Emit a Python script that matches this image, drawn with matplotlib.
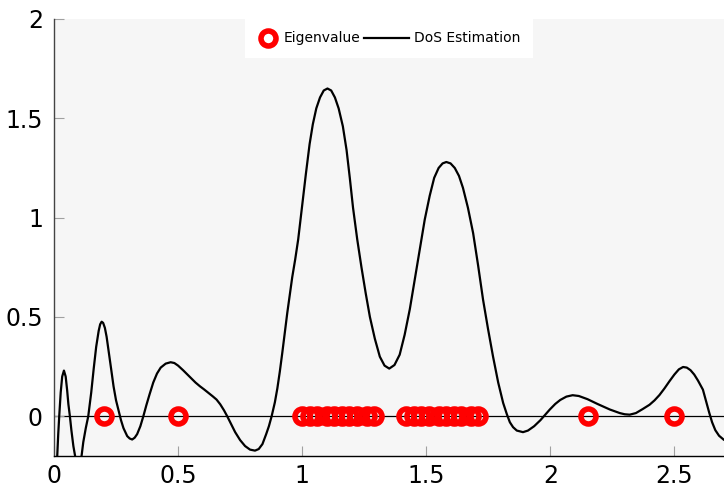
import matplotlib
matplotlib.use("Agg")
import matplotlib.pyplot as plt
from matplotlib.lines import Line2D
from matplotlib.legend_handler import HandlerBase

# eigenvalues (all drawn on y = 0)
eigenvalues = [0.20, 0.50,
               1.00, 1.03, 1.06, 1.10, 1.13, 1.16, 1.19, 1.22, 1.26, 1.29,
               1.42, 1.45, 1.48, 1.51, 1.55, 1.58, 1.61, 1.64, 1.68, 1.71,
               2.15, 2.50]

# DoS estimation curve
dos_x = [0.000, 0.008, 0.013, 0.017, 0.021, 0.027, 0.033, 0.040, 0.047, 0.053,
         0.058, 0.064, 0.070, 0.078, 0.085, 0.098, 0.111, 0.118, 0.128, 0.138,
         0.150, 0.160, 0.170, 0.180, 0.186, 0.192, 0.198, 0.205, 0.212, 0.220,
         0.230, 0.240, 0.250, 0.260, 0.270, 0.280, 0.295, 0.305, 0.315, 0.325,
         0.335, 0.348, 0.360, 0.372, 0.385, 0.400, 0.415, 0.430, 0.450, 0.470,
         0.485, 0.500, 0.520, 0.550, 0.570, 0.588, 0.605, 0.625, 0.640, 0.655,
         0.670, 0.685, 0.698, 0.712, 0.730, 0.750, 0.770, 0.790, 0.810, 0.825,
         0.840, 0.855, 0.866, 0.877, 0.890, 0.900, 0.910, 0.920, 0.930, 0.940,
         0.950, 0.960, 0.972, 0.984, 1.000, 1.015, 1.030, 1.043, 1.057, 1.072,
         1.087, 1.102, 1.117, 1.132, 1.147, 1.164, 1.179, 1.192, 1.205, 1.222,
         1.239, 1.256, 1.273, 1.293, 1.313, 1.332, 1.351, 1.372, 1.393, 1.413,
         1.434, 1.454, 1.474, 1.494, 1.514, 1.532, 1.550, 1.566, 1.581, 1.598,
         1.615, 1.632, 1.648, 1.668, 1.689, 1.709, 1.729, 1.749, 1.769, 1.790,
         1.810, 1.825, 1.837, 1.850, 1.865, 1.890, 1.910, 1.935, 1.960, 1.980,
         1.998, 2.020, 2.040, 2.065, 2.090, 2.115, 2.150, 2.190, 2.240, 2.280,
         2.300, 2.320, 2.345, 2.372, 2.400, 2.420, 2.440, 2.460, 2.480, 2.500,
         2.518, 2.535, 2.550, 2.565, 2.580, 2.595, 2.615, 2.628, 2.640, 2.652,
         2.665, 2.680, 2.698]
dos_y = [-0.90, -0.45, -0.20, -0.09, 0.00, 0.12, 0.20, 0.23, 0.20, 0.13,
         0.06, 0.00, -0.07, -0.15, -0.20, -0.26, -0.20, -0.13, -0.06, 0.00,
         0.12, 0.24, 0.35, 0.43, 0.463, 0.476, 0.47, 0.445, 0.40, 0.33,
         0.24, 0.15, 0.08, 0.03, -0.02, -0.06, -0.10, -0.112, -0.117, -0.108,
         -0.09, -0.05, 0.00, 0.055, 0.11, 0.17, 0.215, 0.245, 0.265, 0.272,
         0.268, 0.255, 0.232, 0.195, 0.17, 0.151, 0.135, 0.115, 0.10, 0.084,
         0.06, 0.03, 0.00, -0.035, -0.08, -0.12, -0.15, -0.168, -0.173, -0.165,
         -0.14, -0.09, -0.05, 0.00, 0.07, 0.14, 0.225, 0.32, 0.42, 0.52,
         0.61, 0.70, 0.79, 0.89, 1.06, 1.22, 1.37, 1.47, 1.55, 1.605,
         1.64, 1.65, 1.64, 1.605, 1.55, 1.46, 1.34, 1.20, 1.05, 0.89,
         0.75, 0.62, 0.50, 0.39, 0.30, 0.255, 0.240, 0.258, 0.31, 0.41,
         0.54, 0.69, 0.838, 0.99, 1.11, 1.20, 1.25, 1.273, 1.28, 1.273,
         1.25, 1.21, 1.15, 1.05, 0.922, 0.76, 0.587, 0.44, 0.302, 0.17,
         0.067, 0.01, -0.03, -0.055, -0.072, -0.080, -0.072, -0.05, -0.02, 0.008,
         0.034, 0.062, 0.082, 0.099, 0.106, 0.102, 0.086, 0.062, 0.034, 0.016,
         0.010, 0.008, 0.016, 0.036, 0.058, 0.080, 0.107, 0.14, 0.176, 0.21,
         0.236, 0.248, 0.245, 0.232, 0.21, 0.18, 0.134, 0.075, 0.02, -0.03,
         -0.07, -0.098, -0.117]

x_ticks = [0, 0.5, 1, 1.5, 2, 2.5]
x_tick_labels = ["0", "0.5", "1", "1.5", "2", "2.5"]
y_ticks = [0, 0.5, 1, 1.5, 2]
y_tick_labels = ["0", "0.5", "1", "1.5", "2"]


class HandlerLongLine(HandlerBase):
    """Legend line that reaches back into the column gap (pgfplots style)."""

    def create_artists(self, legend, orig_handle, xdescent, ydescent,
                       width, height, fontsize, trans):
        y = (height - ydescent) / 2
        line = Line2D([-xdescent - 17.5, -xdescent + width], [y, y],
                      color=orig_handle.get_color(), lw=orig_handle.get_linewidth())
        line.set_transform(trans)
        return [line]


fig = plt.figure(figsize=(7.24, 4.88), dpi=100)
ax = fig.add_axes([0.0746, 0.0656, 0.9254, 0.8955])
ax.set_facecolor("#f6f6f6")

ax.axhline(0, color="black", lw=0.9, zorder=1)
eig_line, = ax.plot(eigenvalues, [0] * len(eigenvalues), linestyle="none", marker="o",
                    markersize=10.8, markeredgewidth=4.0, markeredgecolor="#ff0000",
                    markerfacecolor="none", label="Eigenvalue", zorder=3)
dos_line, = ax.plot(dos_x, dos_y, color="black", lw=1.6, label="DoS Estimation", zorder=2)

ax.set_xlim(0, 2.7)
ax.set_ylim(-0.2, 2)
ax.set_xticks(x_ticks)
ax.set_xticklabels(x_tick_labels)
ax.set_yticks(y_ticks)
ax.set_yticklabels(y_tick_labels)
ax.tick_params(direction="in", length=7, width=0.8, color="#a0a0a0", labelsize=17)
ax.tick_params(axis="y", pad=8)
ax.tick_params(axis="x", pad=6)

for side in ["top", "right"]:
    ax.spines[side].set_visible(False)
ax.spines["left"].set_color("#444444")
ax.spines["bottom"].set_color("black")
ax.spines["left"].set_linewidth(1.0)
ax.spines["bottom"].set_linewidth(1.0)

leg = ax.legend(handles=[eig_line, dos_line], loc="upper center",
                bbox_to_anchor=(0.5, 1.0), borderaxespad=0, ncol=2,
                fontsize=10, frameon=True, fancybox=False, edgecolor="white",
                facecolor="white", framealpha=1, handlelength=1.5,
                handletextpad=0.4, columnspacing=2.0, borderpad=0.9,
                handler_map={dos_line: HandlerLongLine()})
leg.get_frame().set_linewidth(0)

fig.savefig("out.png", dpi=100)
